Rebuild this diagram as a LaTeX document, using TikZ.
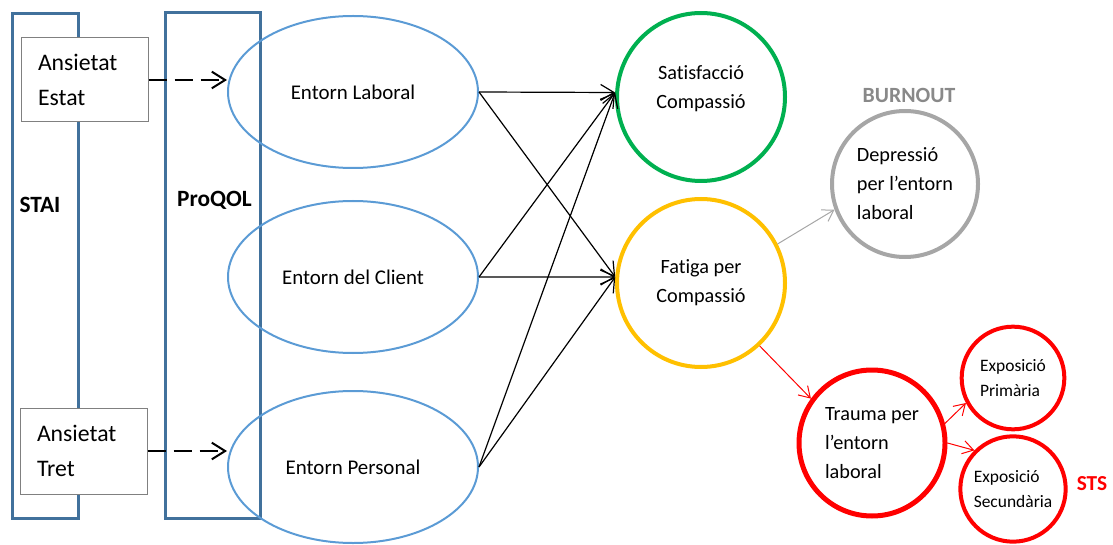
\documentclass[tikz,border=0pt]{standalone}
\usepackage{fontspec}
\setmainfont{Carlito}[Ligatures=NoCommon]
\usepackage{tikz}
\usetikzlibrary{positioning, arrows.meta, shapes.geometric}

\definecolor{scaleblue}{RGB}{65,113,156}
\definecolor{envblue}{RGB}{91,155,213}
\definecolor{satgreen}{RGB}{0,176,80}
\definecolor{fatyellow}{RGB}{255,192,0}
\definecolor{burngray}{RGB}{166,166,166}
\definecolor{burntext}{RGB}{137,137,137}
\definecolor{stsred}{RGB}{255,0,0}

\begin{document}
\begin{tikzpicture}[
  x=0.75pt, y=-0.75pt,
  scalebox/.style={draw=scaleblue, line width=2.25pt, inner sep=0pt, outer sep=0pt},
  scalelbl/.style={font=\fontsize{17.5pt}{21pt}\selectfont\bfseries},
  anxbox/.style={draw=gray, fill=white, line width=0.75pt, align=left,
    text width=69.75pt, inner xsep=12.75pt, minimum height=63pt,
    font=\fontsize{17.8pt}{26.25pt}\selectfont},
  env/.style={draw=envblue, ellipse, line width=1.5pt, inner sep=0pt,
    minimum width=187.5pt, minimum height=114pt,
    font=\fontsize{15.7pt}{19pt}\selectfont},
  outc/.style={circle, fill=white, line width=3pt, inner sep=0pt,
    font=\fontsize{15.2pt}{21.75pt}\selectfont},
  expo/.style={outc, draw=stsred, align=left,
    font=\fontsize{13.1pt}{18.4pt}\selectfont},
  dasharr/.style={line width=1.5pt, dash pattern=on 13.5pt off 6pt,
    -{Straight Barb[length=10pt,width=12.5pt]}},
  linkarr/.style={line width=0.9pt, -{Straight Barb[length=10pt,width=12pt]}},
  thinarr/.style={line width=0.75pt, -{Straight Barb[length=8pt,width=10pt]}},
]
  \useasboundingbox (0,0) rectangle (1113,545);

  % instruments
  \node[scalebox, minimum width=49.5pt, minimum height=378pt] (stai) at (45,266) {};
  \node[scalebox, minimum width=71.25pt, minimum height=378.75pt] (proqol) at (212.5,265.5) {};
  \node[scalelbl] (stailbl) at (40,205) {STAI};
  \node[scalelbl] (proqollbl) at (214.5,200) {ProQOL};

  \node[anxbox] (estat) at (84.5,80) {Ansietat\\Estat};
  \node[anxbox, minimum height=64.5pt] (tret) at (83.5,451) {Ansietat\\Tret};

  % ProQOL environments
  \node[env] (laboral) at (353,92) {Entorn Laboral};
  \node[env] (client) at (353,277) {Entorn del Client};
  \node[env] (personal) at (353,467) {Entorn Personal};

  % outcomes
  \node[outc, draw=satgreen, minimum size=126pt, align=center, text depth=15pt] (satis) at (701,97) {Satisfacció\\Compassió};
  \node[outc, draw=fatyellow, minimum size=126pt, align=center] (fatiga) at (701,283) {Fatiga per\\Compassió};
  \node[outc, draw=burngray, minimum size=109.5pt, align=left] (depr) at (905,184) {Depressió\\per l’entorn\\laboral};
  \node[outc, draw=stsred, line width=3.75pt, minimum size=109.5pt, align=left] (trauma) at (872,443) {Trauma per\\l’entorn\\laboral};
  \node[expo, minimum size=77pt] (prim) at (1013,378) {Exposició\\Primària};
  \node[expo, minimum size=79pt] (secu) at (1013,489) {Exposició\\Secundària};

  \node[font=\fontsize{16.3pt}{19pt}\selectfont\bfseries, text=burntext] (burnout) at (909,95) {BURNOUT};
  \node[font=\fontsize{16pt}{19pt}\selectfont\bfseries, text=stsred] (sts) at (1092,484) {STS};

  % connections
  \draw[dasharr] (estat.east) -- (estat.east -| laboral.west);
  \draw[dasharr] (tret.east) -- (tret.east -| personal.west);

  \foreach \src in {laboral, client, personal} {
    \draw[linkarr] (\src.east) -- (satis.177);
    \draw[linkarr] (\src.east) -- (fatiga.176);
  }

  \draw[thinarr, burngray] (fatiga.27) -- (depr.200);
  \draw[thinarr, stsred] (fatiga.-47) -- (trauma.144);
  \draw[thinarr, stsred] (trauma.15) -- (prim.208);
  \draw[thinarr, stsred] (trauma.0) -- (secu.135);
\end{tikzpicture}
\end{document}
